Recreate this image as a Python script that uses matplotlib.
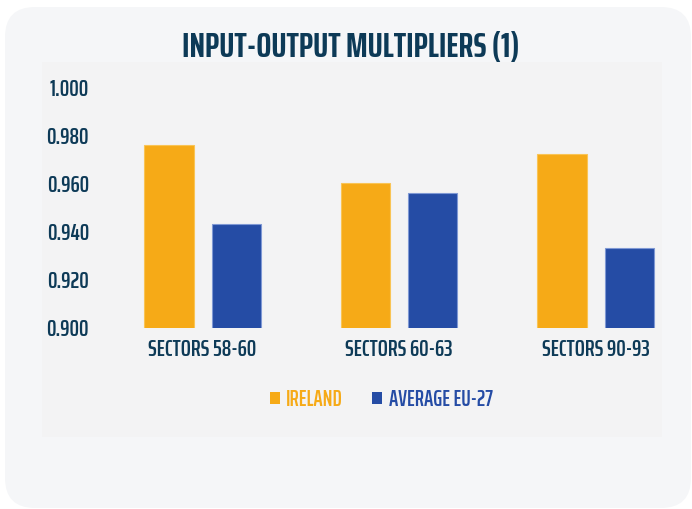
import matplotlib.pyplot as plt
from matplotlib.patches import FancyBboxPatch, Rectangle, Patch
import numpy as np

# datos
sectores = ['SECTORS 58-60', 'SECTORS 60-63', 'SECTORS 90-93']
ireland = [0.976, 0.960, 0.972]
eu27 = [0.943, 0.956, 0.933]
series = ['IRELAND', 'AVERAGE EU-27']
yticks = [0.900, 0.920, 0.940, 0.960, 0.980, 1.000]

naranja = '#f6aa17'
azul = '#254ca5'
texto = '#0d3a57'

plt.rcParams['font.family'] = ['Saira ExtraCondensed', 'DejaVu Sans']

W, H = 692, 509
fig = plt.figure(figsize=(W / 100, H / 100), dpi=100)
fig.patch.set_facecolor('white')

# tarjeta de fondo redondeada
r = 30
fig.patches.append(FancyBboxPatch((5 / W, 1 / H), 686 / W, 501 / H,
                                  boxstyle=f'round,pad=0,rounding_size={r / W}',
                                  mutation_aspect=W / H, transform=fig.transFigure,
                                  facecolor='#f5f6f8', edgecolor='none', zorder=-2))
# panel interior
fig.patches.append(Rectangle((42 / W, (H - 437) / H), 620 / W, 375 / H,
                             transform=fig.transFigure, facecolor='#f3f3f4',
                             edgecolor='none', zorder=-1))

ax = fig.add_axes([100 / W, (H - 328) / H, 560 / W, 241 / H])
ax.set_facecolor('none')

x = np.arange(len(sectores))
w = 0.25
d = 0.171
ax.bar(x - d, ireland, w, color=naranja, edgecolor='#f9c455', linewidth=0.8)
ax.bar(x + d, eu27, w, color=azul, edgecolor='#7f98d4', linewidth=0.8)

ax.set_ylim(0.9, 1.0)
ax.set_xlim(-0.522, 2.328)
ax.set_yticks(yticks)
ax.set_yticklabels([f'{v:.3f}' for v in yticks])
ax.set_xticks(x)
ax.set_xticklabels(sectores)
ax.tick_params(axis='y', length=0, pad=8, labelsize=17, labelcolor=texto)
ax.tick_params(axis='x', length=0, pad=8, labelsize=17, labelcolor=texto)
for lab in ax.get_xticklabels() + ax.get_yticklabels():
    lab.set_fontweight(600)
for s in ax.spines.values():
    s.set_visible(False)

fig.text(351 / W, (H - 47) / H, 'INPUT-OUTPUT MULTIPLIERS (1)', ha='center', va='center',
         fontsize=25.5, fontweight='bold', color=texto)

handles = [Patch(facecolor=naranja), Patch(facecolor=azul)]
leg = fig.legend(handles, series, loc='center', bbox_to_anchor=(381 / W, (H - 400) / H),
                 ncol=2, frameon=False, handlelength=0.45, handleheight=0.45,
                 handletextpad=0.3, columnspacing=1.3,
                 prop={'size': 16, 'weight': 600})
for t, c in zip(leg.get_texts(), [naranja, azul]):
    t.set_color(c)

fig.savefig('out.png', dpi=100)
